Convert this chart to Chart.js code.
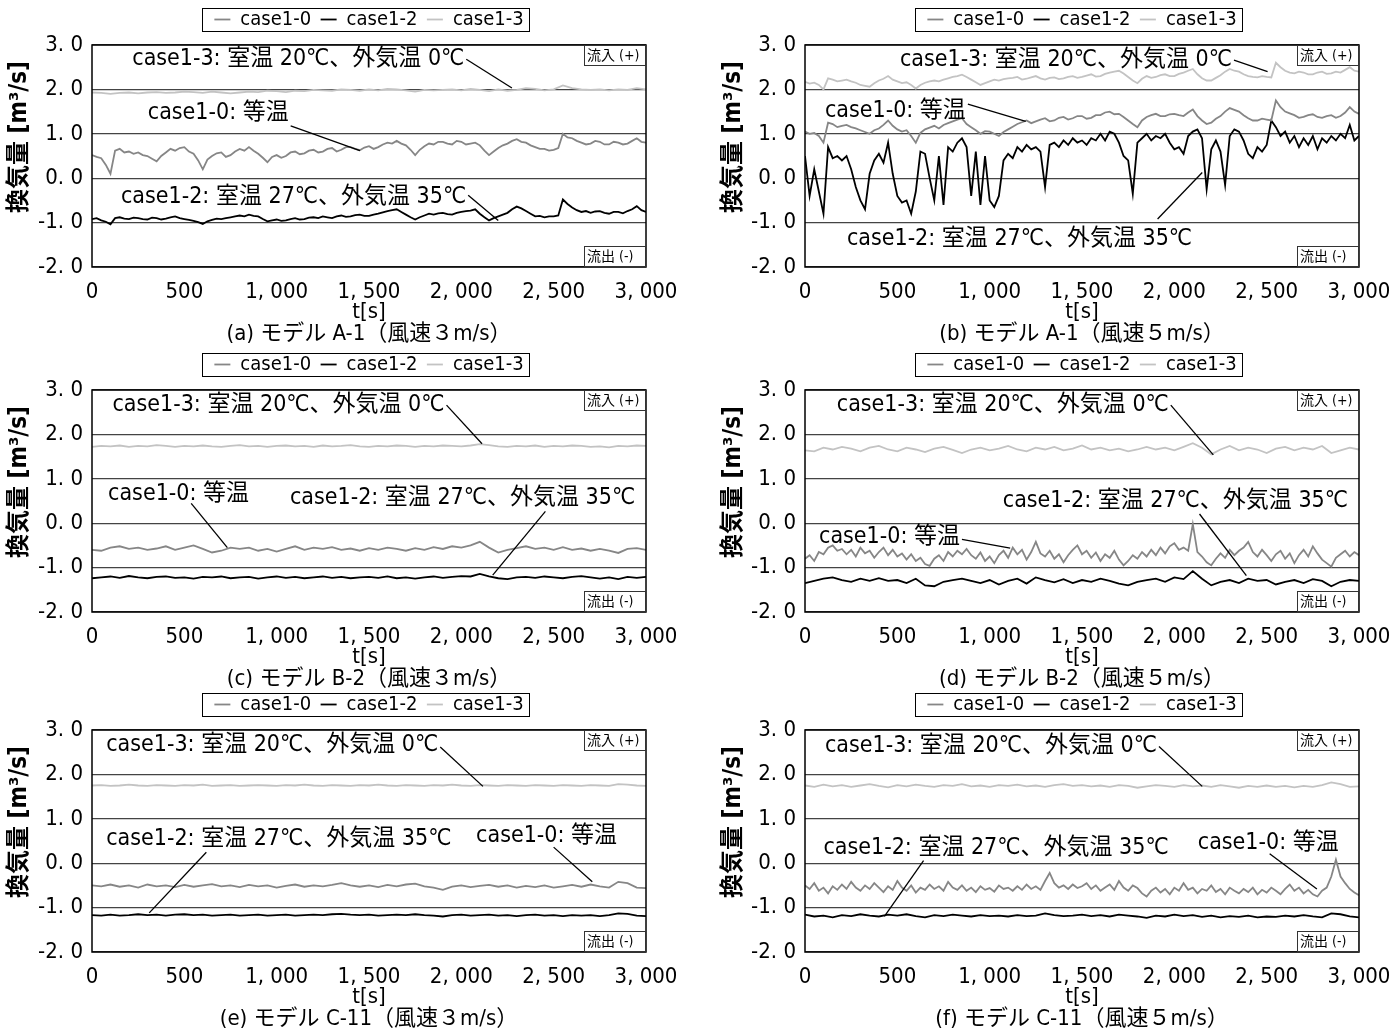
<!DOCTYPE html>
<html>
<head>
<meta charset="utf-8">
<script src="https://cdn.jsdelivr.net/npm/chart.js@4.4.0/dist/chart.umd.min.js"></script>
<style>
  body { margin: 0; background: #fff; width: 1392px; height: 1035px; overflow: hidden; position: relative; }
  .p { position: absolute; }
</style>
</head>
<body>
<div class="p" style="left:0;top:0;width:700px;height:345px"><canvas id="pa"></canvas></div>
<div class="p" style="left:700px;top:0;width:692px;height:345px"><canvas id="pb"></canvas></div>
<div class="p" style="left:0;top:345px;width:700px;height:345px"><canvas id="pc"></canvas></div>
<div class="p" style="left:700px;top:345px;width:692px;height:345px"><canvas id="pd"></canvas></div>
<div class="p" style="left:0;top:685px;width:700px;height:350px"><canvas id="pe"></canvas></div>
<div class="p" style="left:700px;top:685px;width:692px;height:350px"><canvas id="pf"></canvas></div>
<script>
const COND = "'DejaVu Sans Condensed', 'Liberation Sans Narrow', 'Noto Sans CJK JP', sans-serif"

const seriesNames = ['case1-0', 'case1-2', 'case1-3']
const seriesColors = ['#868686', '#000000', '#c3c3c3']
const xTickLabels = ['0', '500', '1, 000', '1, 500', '2, 000', '2, 500', '3, 000']
const yTickLabels = ['-2. 0', '-1. 0', '0. 0', '1. 0', '2. 0', '3. 0']
const yTitle = '換気量 [m³/s]'
const xTitle = 't[s]'
const captions = [
    '(a) モデル A-1（風速３m/s）',
    '(b) モデル A-1（風速５m/s）',
    '(c) モデル B-2（風速３m/s）',
    '(d) モデル B-2（風速５m/s）',
    '(e) モデル C-11（風速３m/s）',
    '(f) モデル C-11（風速５m/s）',
]
const NOTE10 = 'case1-0: 等温'
const NOTE12 = 'case1-2: 室温 27℃、外気温 35℃'
const NOTE13 = 'case1-3: 室温 20℃、外気温 0℃'

// time axis [s]
const t50 = [0, 50, 100, 150, 200, 250, 300, 350, 400, 450,
    500, 550, 600, 650, 700, 750, 800, 850, 900, 950,
    1000, 1050, 1100, 1150, 1200, 1250, 1300, 1350, 1400, 1450,
    1500, 1550, 1600, 1650, 1700, 1750, 1800, 1850, 1900, 1950,
    2000, 2050, 2100, 2150, 2200, 2250, 2300, 2350, 2400, 2450,
    2500, 2550, 2600, 2650, 2700, 2750, 2800, 2850, 2900, 2950,
    3000]
const t25 = [0, 25, 50, 75, 100, 125, 150, 175, 200, 225,
    250, 275, 300, 325, 350, 375, 400, 425, 450, 475,
    500, 525, 550, 575, 600, 625, 650, 675, 700, 725,
    750, 775, 800, 825, 850, 875, 900, 925, 950, 975,
    1000, 1025, 1050, 1075, 1100, 1125, 1150, 1175, 1200, 1225,
    1250, 1275, 1300, 1325, 1350, 1375, 1400, 1425, 1450, 1475,
    1500, 1525, 1550, 1575, 1600, 1625, 1650, 1675, 1700, 1725,
    1750, 1775, 1800, 1825, 1850, 1875, 1900, 1925, 1950, 1975,
    2000, 2025, 2050, 2075, 2100, 2125, 2150, 2175, 2200, 2225,
    2250, 2275, 2300, 2325, 2350, 2375, 2400, 2425, 2450, 2475,
    2500, 2525, 2550, 2575, 2600, 2625, 2650, 2675, 2700, 2725,
    2750, 2775, 2800, 2825, 2850, 2875, 2900, 2925, 2950, 2975,
    3000]

// (a) A-1, 3 m/s
const a_case10 = [0.52, 0.48, 0.45, 0.30, 0.10, 0.62, 0.66, 0.58, 0.60, 0.55,
    0.58, 0.52, 0.50, 0.44, 0.38, 0.50, 0.58, 0.66, 0.62, 0.68,
    0.70, 0.60, 0.55, 0.40, 0.20, 0.42, 0.50, 0.56, 0.58, 0.48,
    0.52, 0.60, 0.66, 0.62, 0.70, 0.62, 0.55, 0.46, 0.36, 0.48,
    0.52, 0.46, 0.50, 0.58, 0.60, 0.54, 0.56, 0.62, 0.64, 0.58,
    0.60, 0.66, 0.68, 0.60, 0.64, 0.70, 0.70, 0.66, 0.63, 0.69,
    0.72, 0.66, 0.70, 0.76, 0.80, 0.78, 0.84, 0.78, 0.74, 0.64,
    0.52, 0.64, 0.72, 0.78, 0.76, 0.82, 0.82, 0.78, 0.76, 0.84,
    0.82, 0.76, 0.78, 0.80, 0.74, 0.62, 0.52, 0.60, 0.68, 0.74,
    0.78, 0.84, 0.88, 0.82, 0.80, 0.74, 0.70, 0.66, 0.66, 0.62,
    0.64, 0.68, 1.00, 0.92, 0.90, 0.84, 0.80, 0.76, 0.78, 0.84,
    0.82, 0.76, 0.76, 0.82, 0.80, 0.76, 0.78, 0.84, 0.90, 0.82,
    0.80]
const a_case12 = [-0.92, -0.90, -0.95, -0.98, -1.04, -0.90, -0.88, -0.91, -0.92, -0.89,
    -0.90, -0.92, -0.93, -0.89, -0.90, -0.93, -0.91, -0.88, -0.86, -0.90,
    -0.92, -0.94, -0.96, -0.99, -1.03, -0.97, -0.94, -0.91, -0.92, -0.90,
    -0.88, -0.86, -0.84, -0.86, -0.82, -0.85, -0.86, -0.92, -0.97, -0.95,
    -0.93, -0.96, -0.95, -0.92, -0.90, -0.93, -0.92, -0.89, -0.88, -0.90,
    -0.86, -0.88, -0.90, -0.86, -0.84, -0.87, -0.86, -0.83, -0.82, -0.85,
    -0.85, -0.82, -0.80, -0.77, -0.74, -0.72, -0.70, -0.76, -0.82, -0.88,
    -0.93, -0.88, -0.84, -0.80, -0.82, -0.79, -0.78, -0.81, -0.82, -0.78,
    -0.76, -0.74, -0.73, -0.70, -0.80, -0.88, -0.95, -0.90, -0.86, -0.82,
    -0.78, -0.70, -0.64, -0.68, -0.74, -0.80, -0.86, -0.85, -0.88, -0.86,
    -0.86, -0.84, -0.48, -0.58, -0.66, -0.72, -0.76, -0.74, -0.78, -0.75,
    -0.74, -0.78, -0.80, -0.76, -0.76, -0.79, -0.74, -0.70, -0.63, -0.72,
    -0.76]
const a_case13 = [1.93, 1.92, 1.90, 1.92, 1.93, 1.91, 1.93, 1.94, 1.92, 1.93,
    1.95, 1.94, 1.92, 1.95, 1.93, 1.91, 1.93, 1.95, 1.94, 1.97,
    1.96, 1.94, 1.97, 1.96, 1.99, 1.98, 1.97, 2.00, 1.99, 1.97,
    2.00, 1.98, 2.01, 2.00, 1.98, 1.95, 1.99, 1.98, 1.99, 2.00,
    1.98, 2.01, 1.99, 1.96, 2.00, 1.97, 1.99, 2.03, 2.01, 1.98,
    2.00, 2.09, 2.03, 2.00, 1.99, 2.00, 1.98, 2.00, 1.99, 2.03,
    2.00]

// (b) A-1, 5 m/s
const b_case10 = [1.05, 1.00, 1.02, 0.95, 0.80, 1.25, 1.22, 1.15, 1.18, 1.20,
    1.15, 1.12, 1.08, 1.04, 1.00, 1.08, 1.12, 1.20, 1.30, 1.18,
    1.10, 1.05, 1.08, 0.95, 0.80, 1.02, 1.10, 1.14, 1.18, 1.12,
    1.20, 1.24, 1.28, 1.32, 1.35, 1.22, 1.15, 1.08, 1.00, 1.06,
    1.05, 1.00, 0.95, 1.04, 1.10, 1.16, 1.22, 1.26, 1.30, 1.24,
    1.28, 1.32, 1.35, 1.28, 1.30, 1.36, 1.38, 1.32, 1.35, 1.40,
    1.40, 1.34, 1.36, 1.42, 1.42, 1.48, 1.50, 1.44, 1.45, 1.38,
    1.30, 1.22, 1.15, 1.30, 1.38, 1.42, 1.45, 1.40, 1.40, 1.44,
    1.45, 1.42, 1.40, 1.48, 1.55, 1.40, 1.30, 1.22, 1.25, 1.34,
    1.40, 1.50, 1.58, 1.54, 1.50, 1.42, 1.35, 1.30, 1.30, 1.34,
    1.32, 1.30, 1.75, 1.60, 1.50, 1.46, 1.42, 1.36, 1.38, 1.42,
    1.44, 1.38, 1.36, 1.40, 1.42, 1.36, 1.40, 1.48, 1.60, 1.50,
    1.45]
const b_case12 = [0.50, -0.40, 0.20, -0.30, -0.80, 0.70, 0.45, 0.50, 0.40, 0.50,
    0.20, -0.20, -0.50, -0.70, 0.10, 0.40, 0.55, 0.35, 0.80, 0.10,
    -0.40, -0.55, -0.50, -0.80, -0.30, 0.60, 0.55, 0.00, -0.50, 0.50,
    -0.60, 0.70, 0.60, 0.80, 0.90, 0.70, -0.40, 0.60, -0.60, 0.50,
    -0.50, -0.65, -0.40, 0.40, 0.55, 0.45, 0.70, 0.60, 0.75, 0.65,
    0.70, 0.60, -0.20, 0.75, 0.80, 0.70, 0.85, 0.75, 0.90, 0.80,
    0.85, 0.75, 0.90, 0.85, 1.00, 0.85, 1.05, 1.00, 0.80, 0.50,
    0.40, -0.35, 0.80, 0.90, 1.00, 0.85, 0.95, 0.90, 1.00, 0.80,
    0.65, 0.70, 0.55, 0.95, 1.05, 1.10, 0.90, -0.25, 0.65, 0.85,
    0.60, -0.15, 0.95, 1.10, 1.05, 0.85, 0.55, 0.45, 0.70, 0.60,
    0.75, 1.30, 1.15, 0.95, 1.05, 0.80, 0.95, 0.70, 0.90, 0.75,
    0.95, 0.65, 0.90, 0.80, 0.95, 0.85, 1.00, 0.90, 1.20, 0.85,
    0.95]
const b_case13 = [2.17, 2.13, 2.15, 2.10, 2.00, 2.25, 2.22, 2.18, 2.20, 2.22,
    2.18, 2.15, 2.10, 2.08, 2.06, 2.14, 2.20, 2.24, 2.30, 2.22,
    2.18, 2.14, 2.16, 2.10, 2.02, 2.10, 2.15, 2.18, 2.20, 2.18,
    2.22, 2.25, 2.28, 2.30, 2.33, 2.28, 2.22, 2.16, 2.10, 2.14,
    2.18, 2.22, 2.20, 2.23, 2.25, 2.26, 2.28, 2.22, 2.24, 2.27,
    2.30, 2.25, 2.22, 2.26, 2.27, 2.23, 2.25, 2.28, 2.30, 2.26,
    2.28, 2.31, 2.34, 2.29, 2.30, 2.35, 2.38, 2.40, 2.42, 2.36,
    2.28, 2.20, 2.14, 2.24, 2.30, 2.26, 2.28, 2.32, 2.34, 2.30,
    2.30, 2.35, 2.38, 2.42, 2.46, 2.34, 2.25, 2.20, 2.20, 2.26,
    2.32, 2.40, 2.46, 2.42, 2.40, 2.34, 2.30, 2.28, 2.27, 2.30,
    2.28, 2.27, 2.60, 2.50, 2.42, 2.38, 2.36, 2.40, 2.38, 2.34,
    2.34, 2.38, 2.40, 2.35, 2.36, 2.40, 2.38, 2.44, 2.50, 2.42,
    2.40]

// (c) B-2, 3 m/s
const c_case10 = [-0.60, -0.62, -0.55, -0.52, -0.58, -0.55, -0.60, -0.57, -0.52, -0.60,
    -0.55, -0.50, -0.58, -0.66, -0.62, -0.55, -0.58, -0.55, -0.62, -0.58,
    -0.64, -0.58, -0.52, -0.60, -0.55, -0.58, -0.54, -0.60, -0.57, -0.62,
    -0.56, -0.60, -0.55, -0.58, -0.62, -0.56, -0.60, -0.54, -0.58, -0.52,
    -0.55, -0.50, -0.42, -0.55, -0.66, -0.60, -0.56, -0.52, -0.58, -0.55,
    -0.60, -0.54, -0.60, -0.57, -0.62, -0.58, -0.62, -0.67, -0.58, -0.56,
    -0.60]
const c_case12 = [-1.24, -1.22, -1.20, -1.23, -1.19, -1.22, -1.24, -1.21, -1.20, -1.23,
    -1.22, -1.25, -1.21, -1.22, -1.20, -1.24, -1.22, -1.21, -1.25, -1.22,
    -1.20, -1.23, -1.21, -1.24, -1.22, -1.20, -1.23, -1.21, -1.24, -1.22,
    -1.21, -1.23, -1.20, -1.24, -1.22, -1.25, -1.22, -1.20, -1.23, -1.21,
    -1.19, -1.20, -1.14, -1.20, -1.24, -1.26, -1.22, -1.21, -1.23, -1.20,
    -1.22, -1.24, -1.21, -1.19, -1.22, -1.25, -1.22, -1.26, -1.21, -1.23,
    -1.21]
const c_case13 = [1.72, 1.74, 1.73, 1.75, 1.72, 1.74, 1.73, 1.76, 1.74, 1.72,
    1.74, 1.73, 1.75, 1.73, 1.72, 1.74, 1.76, 1.73, 1.74, 1.72,
    1.74, 1.75, 1.73, 1.74, 1.72, 1.75, 1.73, 1.74, 1.76, 1.73,
    1.72, 1.74, 1.73, 1.75, 1.74, 1.72, 1.74, 1.73, 1.75, 1.74,
    1.73, 1.75, 1.78, 1.76, 1.73, 1.72, 1.74, 1.73, 1.75, 1.72,
    1.74, 1.73, 1.75, 1.74, 1.72, 1.73, 1.71, 1.74, 1.73, 1.75,
    1.74]

// (d) B-2, 5 m/s
const d_case10 = [-0.80, -0.72, -0.85, -0.65, -0.70, -0.55, -0.50, -0.62, -0.58, -0.70,
    -0.60, -0.75, -0.55, -0.68, -0.62, -0.78, -0.65, -0.55, -0.72, -0.60,
    -0.75, -0.68, -0.82, -0.70, -0.85, -0.78, -0.92, -0.96, -0.80, -0.72,
    -0.85, -0.65, -0.75, -0.62, -0.70, -0.58, -0.72, -0.80, -0.66, -0.85,
    -0.75, -0.90, -0.72, -0.62, -0.78, -0.55, -0.70, -0.60, -0.82, -0.65,
    -0.42, -0.68, -0.75, -0.62, -0.80, -0.70, -0.88, -0.72, -0.60, -0.50,
    -0.70, -0.62, -0.78, -0.66, -0.85, -0.70, -0.78, -0.62, -0.82, -0.95,
    -0.85, -0.72, -0.80, -0.65, -0.75, -0.60, -0.72, -0.55, -0.68, -0.52,
    -0.45, -0.60, -0.55, -0.62, -0.02, -0.65, -0.75, -0.88, -0.95, -0.80,
    -0.68, -0.78, -0.60, -0.72, -0.62, -0.55, -0.42, -0.65, -0.75, -0.60,
    -0.72, -0.85, -0.70, -0.62, -0.80, -0.68, -0.90, -0.72, -0.60, -0.75,
    -0.52, -0.68, -0.82, -0.90, -0.98, -0.78, -0.70, -0.62, -0.75, -0.65,
    -0.72]
const d_case12 = [-1.35, -1.30, -1.25, -1.22, -1.28, -1.32, -1.25, -1.30, -1.24, -1.30,
    -1.28, -1.35, -1.25, -1.40, -1.42, -1.32, -1.28, -1.25, -1.30, -1.35,
    -1.28, -1.38, -1.30, -1.25, -1.36, -1.22, -1.28, -1.33, -1.26, -1.35,
    -1.28, -1.32, -1.25, -1.30, -1.36, -1.40, -1.32, -1.28, -1.25, -1.32,
    -1.22, -1.26, -1.08, -1.25, -1.40, -1.32, -1.28, -1.35, -1.25, -1.30,
    -1.28, -1.38, -1.32, -1.28, -1.35, -1.26, -1.30, -1.42, -1.32, -1.28,
    -1.30]
const d_case13 = [1.64, 1.62, 1.70, 1.66, 1.72, 1.68, 1.62, 1.70, 1.74, 1.66,
    1.62, 1.70, 1.66, 1.60, 1.68, 1.72, 1.65, 1.58, 1.66, 1.70,
    1.64, 1.68, 1.74, 1.66, 1.62, 1.70, 1.66, 1.72, 1.64, 1.68,
    1.75, 1.66, 1.70, 1.64, 1.68, 1.62, 1.66, 1.72, 1.66, 1.70,
    1.64, 1.72, 1.80, 1.70, 1.55, 1.66, 1.74, 1.64, 1.70, 1.66,
    1.58, 1.68, 1.72, 1.64, 1.70, 1.66, 1.74, 1.58, 1.64, 1.70,
    1.66]

// (e) C-11, 3 m/s
const e_case10 = [-0.50, -0.52, -0.48, -0.53, -0.50, -0.55, -0.48, -0.52, -0.50, -0.54,
    -0.49, -0.53, -0.50, -0.47, -0.52, -0.50, -0.54, -0.49, -0.52, -0.50,
    -0.55, -0.51, -0.48, -0.53, -0.50, -0.52, -0.49, -0.45, -0.50, -0.53,
    -0.50, -0.54, -0.49, -0.52, -0.48, -0.46, -0.52, -0.55, -0.60, -0.53,
    -0.50, -0.54, -0.51, -0.49, -0.53, -0.50, -0.55, -0.51, -0.54, -0.50,
    -0.55, -0.52, -0.49, -0.53, -0.48, -0.52, -0.55, -0.42, -0.45, -0.55,
    -0.56]
const e_case12 = [-1.17, -1.18, -1.16, -1.18, -1.17, -1.15, -1.17, -1.16, -1.18, -1.16,
    -1.15, -1.17, -1.16, -1.18, -1.17, -1.16, -1.18, -1.17, -1.16, -1.18,
    -1.17, -1.16, -1.18, -1.17, -1.16, -1.17, -1.15, -1.14, -1.16, -1.17,
    -1.16, -1.18, -1.17, -1.16, -1.17, -1.15, -1.17, -1.18, -1.20, -1.17,
    -1.16, -1.18, -1.17, -1.16, -1.18, -1.17, -1.19, -1.17, -1.16, -1.18,
    -1.17, -1.19, -1.17, -1.18, -1.17, -1.19, -1.17, -1.13, -1.14, -1.18,
    -1.19]
const e_case13 = [1.75, 1.76, 1.74, 1.75, 1.77, 1.75, 1.74, 1.76, 1.75, 1.74,
    1.76, 1.75, 1.77, 1.74, 1.75, 1.76, 1.74, 1.75, 1.76, 1.75,
    1.74, 1.76, 1.75, 1.77, 1.75, 1.74, 1.76, 1.75, 1.74, 1.76,
    1.75, 1.77, 1.75, 1.74, 1.76, 1.75, 1.74, 1.76, 1.75, 1.77,
    1.75, 1.74, 1.76, 1.75, 1.74, 1.76, 1.75, 1.74, 1.76, 1.75,
    1.74, 1.76, 1.75, 1.74, 1.76, 1.75, 1.74, 1.78, 1.77, 1.75,
    1.74]

// (f) C-11, 5 m/s
const f_case10 = [-0.50, -0.58, -0.45, -0.62, -0.55, -0.68, -0.52, -0.60, -0.48, -0.58,
    -0.42, -0.55, -0.62, -0.50, -0.58, -0.45, -0.55, -0.65, -0.52, -0.60,
    -0.40, -0.55, -0.62, -0.50, -0.66, -0.55, -0.60, -0.48, -0.58, -0.52,
    -0.62, -0.42, -0.55, -0.60, -0.50, -0.62, -0.55, -0.65, -0.52, -0.60,
    -0.56, -0.64, -0.50, -0.58, -0.55, -0.62, -0.52, -0.60, -0.48, -0.58,
    -0.52, -0.60, -0.40, -0.22, -0.45, -0.55, -0.50, -0.58, -0.48, -0.56,
    -0.52, -0.45, -0.58, -0.50, -0.62, -0.55, -0.48, -0.60, -0.40, -0.55,
    -0.62, -0.50, -0.56, -0.68, -0.75, -0.62, -0.55, -0.66, -0.58, -0.70,
    -0.55, -0.62, -0.45, -0.60, -0.55, -0.68, -0.58, -0.62, -0.50, -0.65,
    -0.58, -0.70, -0.55, -0.62, -0.68, -0.58, -0.65, -0.55, -0.70, -0.60,
    -0.66, -0.55, -0.62, -0.70, -0.58, -0.48, -0.62, -0.55, -0.68, -0.60,
    -0.70, -0.75, -0.62, -0.55, -0.30, 0.08, -0.30, -0.45, -0.58, -0.66,
    -0.72]
const f_case12 = [-1.16, -1.20, -1.18, -1.22, -1.17, -1.19, -1.15, -1.18, -1.20, -1.16,
    -1.18, -1.15, -1.19, -1.22, -1.17, -1.19, -1.16, -1.18, -1.20, -1.17,
    -1.19, -1.18, -1.20, -1.17, -1.19, -1.18, -1.13, -1.17, -1.19, -1.18,
    -1.16, -1.19, -1.17, -1.20, -1.16, -1.18, -1.20, -1.23, -1.18, -1.20,
    -1.16, -1.19, -1.17, -1.21, -1.18, -1.22, -1.19, -1.21, -1.18, -1.22,
    -1.20, -1.21, -1.18, -1.20, -1.17, -1.20, -1.22, -1.13, -1.15, -1.20,
    -1.22]
const f_case13 = [1.75, 1.72, 1.77, 1.73, 1.76, 1.72, 1.75, 1.78, 1.74, 1.71,
    1.76, 1.73, 1.77, 1.74, 1.72, 1.76, 1.74, 1.78, 1.73, 1.75,
    1.72, 1.76, 1.74, 1.77, 1.73, 1.75, 1.72, 1.76, 1.78, 1.74,
    1.76, 1.73, 1.75, 1.72, 1.76, 1.74, 1.70, 1.73, 1.76, 1.74,
    1.72, 1.76, 1.73, 1.75, 1.72, 1.76, 1.73, 1.70, 1.74, 1.72,
    1.75, 1.72, 1.74, 1.71, 1.74, 1.72, 1.76, 1.82, 1.78, 1.72,
    1.73]

// label + leader line (x, y: text start in data units; tx, ty: where the leader ends)
const panels = [
    {el: 'pa', side: 0, row: 0, caption: captions[0],
        lines: [[t25, a_case10], [t25, a_case12], [t50, a_case13]],
        notes: [
            {text: NOTE13, x: 218, y: 2.68, f: 1, dy: 0, tx: 2274, ty: 2.03},
            {text: NOTE10, x: 302, y: 1.47, f: 1, dy: 13, tx: 1451, ty: 0.62},
            {text: NOTE12, x: 157, y: -0.43, f: 1, dy: -2, tx: 2200, ty: -0.95},
        ]},
    {el: 'pb', side: 1, row: 0, caption: captions[1],
        lines: [[t25, b_case10], [t25, b_case12], [t25, b_case13]],
        notes: [
            {text: NOTE13, x: 514, y: 2.66, f: 1, dy: 0, tx: 2505, ty: 2.40},
            {text: NOTE10, x: 108, y: 1.51, f: 1, dy: -7, tx: 1195, ty: 1.28},
            {text: NOTE12, x: 227, y: -1.37, f: 0.9, dy: -20, tx: 2151, ty: 0.13},
        ]},
    {el: 'pc', side: 0, row: 1, caption: captions[2],
        lines: [[t50, c_case10], [t50, c_case12], [t50, c_case13]],
        notes: [
            {text: NOTE13, x: 111, y: 2.66, f: 1, dy: 0, tx: 2112, ty: 1.79},
            {text: NOTE10, x: 87, y: 0.65, f: 0.59, dy: 9, tx: 733, ty: -0.55},
            {text: NOTE12, x: 1072, y: 0.56, f: 0.74, dy: 13, tx: 2170, ty: -1.17},
        ]},
    {el: 'pd', side: 1, row: 1, caption: captions[3],
        lines: [[t25, d_case10], [t50, d_case12], [t50, d_case13]],
        notes: [
            {text: NOTE13, x: 172, y: 2.66, f: 1, dy: 0, tx: 2211, ty: 1.54},
            {text: NOTE12, x: 1071, y: 0.50, f: 0.57, dy: 13, tx: 2390, ty: -1.18},
            {text: NOTE10, x: 76, y: -0.32, f: 1, dy: 2, tx: 1111, ty: -0.56},
        ]},
    {el: 'pe', side: 0, row: 2, caption: captions[4],
        lines: [[t50, e_case10], [t50, e_case12], [t50, e_case13]],
        notes: [
            {text: NOTE13, x: 77, y: 2.66, f: 1, dy: 2, tx: 2117, ty: 1.73},
            {text: NOTE12, x: 77, y: 0.54, f: 0.29, dy: 13, tx: 310, ty: -1.12},
            {text: NOTE10, x: 2080, y: 0.61, f: 0.55, dy: 11, tx: 2709, ty: -0.42},
        ]},
    {el: 'pf', side: 1, row: 2, caption: captions[5],
        lines: [[t25, f_case10], [t50, f_case12], [t50, f_case13]],
        notes: [
            {text: NOTE13, x: 108, y: 2.63, f: 1, dy: 0, tx: 2151, ty: 1.73},
            {text: NOTE12, x: 100, y: 0.35, f: 0.29, dy: 13, tx: 430, ty: -1.20},
            {text: NOTE10, x: 2127, y: 0.46, f: 0.51, dy: 11, tx: 2772, ty: -0.58},
        ]},
]

const sides = [
    {padRight: 54, yWidth: 92, yTitleX: 20},
    {padRight: 33, yWidth: 105, yTitleX: 34},
]
const rowPadBottom = [0, 0, 5]

// fixed legend height so every plot starts at the same y
const legendFit = {
    id: 'legendFit',
    afterInit(chart) {
        const lg = chart.legend
        const fit = lg.fit.bind(lg)
        lg.fit = function () {
            fit()
            this.height = 45
        }
    }
}

const decor = {
    id: 'decor',
    afterDatasetsDraw(chart, args, opts) {
        const {ctx, chartArea: a, scales: {x, y}} = chart
        ctx.save()
        ctx.strokeStyle = '#000'
        ctx.lineWidth = 1.5
        ctx.strokeRect(a.left, a.top, a.right - a.left, a.bottom - a.top)

        ctx.font = '14px ' + COND
        ctx.textBaseline = 'middle'
        ctx.textAlign = 'left'
        ;[['流入 (+)', a.top], ['流出 (-)', a.bottom - 21]].forEach(([s, top]) => {
            ctx.fillStyle = '#fff'
            ctx.fillRect(a.right - 62, top, 62, 21)
            ctx.strokeStyle = '#333'
            ctx.lineWidth = 1
            ctx.strokeRect(a.right - 61.5, top + 0.5, 61, 20)
            ctx.fillStyle = '#000'
            ctx.fillText(s, a.right - 59, top + 11)
        })

        ctx.font = '23px ' + COND
        opts.notes.forEach(n => {
            const px = x.getPixelForValue(n.x)
            const py = y.getPixelForValue(n.y)
            const w = ctx.measureText(n.text).width
            ctx.fillStyle = '#000'
            ctx.fillText(n.text, px, py)
            ctx.beginPath()
            ctx.moveTo(px + w * n.f + (n.f >= 1 ? 2 : 0), py + n.dy)
            ctx.lineTo(x.getPixelForValue(n.tx), y.getPixelForValue(n.ty))
            ctx.strokeStyle = '#000'
            ctx.lineWidth = 1.3
            ctx.stroke()
        })

        // y axis title, sits a little above the plot centre as in the figure
        ctx.translate(opts.yTitleX, (a.top + a.bottom) / 2 - 19)
        ctx.rotate(-Math.PI / 2)
        ctx.font = 'bold 24px ' + COND
        ctx.textAlign = 'center'
        ctx.fillStyle = '#000'
        ctx.fillText(yTitle, 0, 0)
        ctx.restore()
    },
    afterDraw(chart) {
        const hb = chart.legend.legendHitBoxes
        if (!hb || !hb.length) return
        const last = hb[hb.length - 1]
        const cy = hb[0].top + hb[0].height / 2
        const ctx = chart.ctx
        ctx.save()
        ctx.strokeStyle = '#000'
        ctx.lineWidth = 1
        ctx.strokeRect(Math.round(hb[0].left - 12) + 0.5, Math.round(cy - 11.5) + 0.5,
            Math.round(last.left + last.width + 18 - hb[0].left), 23)
        ctx.restore()
    }
}

Chart.defaults.color = '#000'
Chart.defaults.font.family = COND

panels.forEach(p => {
    const s = sides[p.side]
    new Chart(document.getElementById(p.el), {
        type: 'line',
        data: {
            datasets: p.lines.map(([ts, vs], i) => ({
                label: seriesNames[i],
                data: ts.map((t, k) => ({x: t, y: vs[k]})),
                borderColor: seriesColors[i],
                backgroundColor: seriesColors[i],
                borderWidth: 1.8,
                pointRadius: 0,
                tension: 0,
                fill: false,
            }))
        },
        options: {
            responsive: true,
            maintainAspectRatio: false,
            animation: false,
            events: [],
            layout: {padding: {left: 0, right: s.padRight, top: 0, bottom: rowPadBottom[p.row]}},
            plugins: {
                legend: {
                    position: 'top',
                    fullSize: false,
                    labels: {
                        usePointStyle: true,
                        pointStyle: 'line',
                        pointStyleWidth: 16,
                        padding: 9.5,
                        color: '#000',
                        font: {family: COND, size: 20},
                    }
                },
                title: {
                    display: true,
                    position: 'bottom',
                    fullSize: false,
                    text: p.caption,
                    color: '#000',
                    font: {family: COND, size: 22, weight: 'normal', lineHeight: 1},
                    padding: 0,
                },
                tooltip: {enabled: false},
                decor: {notes: p.notes, yTitleX: s.yTitleX},
            },
            scales: {
                x: {
                    type: 'linear',
                    min: 0,
                    max: 3000,
                    grid: {display: false},
                    border: {display: false},
                    ticks: {
                        stepSize: 500,
                        autoSkip: false,
                        maxRotation: 0,
                        padding: 4,
                        color: '#000',
                        font: {family: COND, size: 22, lineHeight: 1.2},
                        callback: (v, i) => xTickLabels[i],
                    },
                    title: {
                        display: true,
                        text: xTitle,
                        color: '#000',
                        font: {family: COND, size: 22, lineHeight: 1},
                        padding: 0,
                    },
                    afterFit: sc => {
                        sc.height = 56
                        sc.paddingLeft = 0
                        sc.paddingRight = 0
                    },
                },
                y: {
                    min: -2,
                    max: 3,
                    grid: {color: '#444', lineWidth: 1.2, drawTicks: false},
                    border: {display: false},
                    ticks: {
                        stepSize: 1,
                        padding: 9,
                        color: '#000',
                        font: {family: COND, size: 22, lineHeight: 1.2},
                        callback: (v, i) => yTickLabels[i],
                    },
                    afterFit: sc => {
                        sc.width = s.yWidth
                    },
                },
            },
        },
        plugins: [legendFit, decor],
    })
})
</script>
</body>
</html>
